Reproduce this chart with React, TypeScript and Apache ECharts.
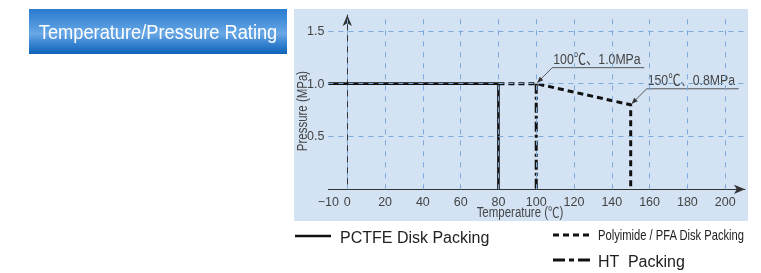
import React, { useEffect, useRef } from "react";
import * as echarts from "echarts";

const pctfeTemp = [-10, 80, 80];
const pctfePress = [1.0, 1.0, 0];
const pfaTemp = [80, 100, 150, 150];
const pfaPress = [1.0, 1.0, 0.8, 0];
const htTemp = [100, 100];
const htPress = [1.0, 0];
const gridTemps = [0, 20, 40, 60, 80, 100, 120, 140, 160, 180, 200];
const gridPress = [0.5, 1.0, 1.5];
const noteTemps = [100, 150];
const notePress = [1.0, 0.8];
const noteLabels = ["100℃、1.0MPa", "150℃、0.8MPa"];
const seriesNames = ["PCTFE Disk Packing", "Polyimide / PFA Disk Packing", "HT  Packing"];

const SANS = "'Liberation Sans', Arial, 'Noto Sans CJK JP', sans-serif";
const NX = 0.82; // horizontal squeeze imitating a condensed face

const pairs = (xs: number[], ys: number[]) => xs.map((x, i) => [x, ys[i]]);

export default function App() {
  const ref = useRef<HTMLDivElement>(null);
  useEffect(() => {
    const chart = echarts.init(ref.current!, null, { renderer: "svg" });
    const axisText = { color: "#444", fontFamily: SANS, fontSize: 12.5 };
    const gridLine = { color: "#7eaadb", type: [5, 5], width: 1 };
    chart.setOption({
      animation: false,
      grid: { left: 328.4, right: 16, top: 15, bottom: 83.7, containLabel: false },
      xAxis: {
        type: "value",
        min: -10,
        max: 210.5,
        interval: 10,
        axisLine: { lineStyle: { color: "#333", width: 1 }, symbol: ["none", "arrow"], symbolSize: [7, 11] },
        axisTick: { show: false },
        splitLine: { show: false },
        axisLabel: {
          ...axisText,
          margin: 6,
          showMaxLabel: false,
          formatter: (v: number) => (v === -10 ? "−10" : v % 20 === 0 && v <= 200 ? String(v) : ""),
        },
      },
      yAxis: {
        type: "value",
        min: 0,
        max: 1.65,
        interval: 0.5,
        axisLine: { show: true, lineStyle: { color: "#333", width: 1 }, symbol: ["none", "arrow"], symbolSize: [7, 11] },
        axisTick: { show: false },
        splitLine: { show: false },
        axisLabel: {
          ...axisText,
          margin: 4,
          showMaxLabel: false,
          formatter: (v: number) => (v === 0 ? "" : v.toFixed(1)),
        },
      },
      series: [
        {
          name: "grid",
          type: "line",
          data: [],
          z: 1,
          silent: true,
          markLine: {
            silent: true,
            symbol: "none",
            label: { show: false },
            lineStyle: gridLine,
            data: [
              ...gridTemps.map((t) => ({ xAxis: t, lineStyle: { ...gridLine, type: [5, 6] } })),
              ...gridPress.map((p) => ({ yAxis: p })),
            ],
          },
        },
        {
          name: seriesNames[0],
          type: "line",
          z: 3,
          symbol: "none",
          data: pairs(pctfeTemp, pctfePress),
          lineStyle: { color: "#111", width: 2.6, type: "solid" },
        },
        {
          name: seriesNames[1],
          type: "line",
          z: 3,
          symbol: "none",
          data: pairs(pfaTemp, pfaPress),
          lineStyle: { color: "#111", width: 3, type: [6, 4] },
        },
        {
          name: seriesNames[2],
          type: "line",
          z: 4,
          symbol: "none",
          data: pairs(htTemp, htPress),
          lineStyle: { color: "#111", width: 3, type: [10, 3, 3, 3] },
        },
      ],
    });

    const g: any[] = [
      { type: "rect", z: -10, shape: { x: 294, y: 9, width: 454, height: 212 }, style: { fill: "#d4e3f4" }, silent: true },
      {
        type: "rect",
        shape: { x: 29, y: 9, width: 258, height: 45 },
        style: {
          fill: new echarts.graphic.LinearGradient(0, 0, 0, 1, [
            { offset: 0, color: "#2a7ccf" },
            { offset: 0.35, color: "#4f96dd" },
            { offset: 0.55, color: "#6aa8e5" },
            { offset: 0.75, color: "#3a86d3" },
            { offset: 1, color: "#0f63b8" },
          ]),
        },
      },
      {
        type: "text",
        x: 158,
        y: 32,
        scaleX: 0.87,
        style: {
          text: "Temperature/Pressure Rating",
          fill: "#fff",
          fontFamily: SANS,
          fontSize: 21,
          align: "center",
          verticalAlign: "middle",
        },
      },
      {
        type: "text",
        x: 302,
        y: 111,
        rotation: Math.PI / 2,
        scaleX: NX,
        style: { text: "Pressure (MPa)", fill: "#444", fontFamily: SANS, fontSize: 14, align: "center", verticalAlign: "middle" },
      },
      {
        type: "text",
        x: 520,
        y: 212,
        scaleX: NX,
        style: { text: "Temperature (℃)", fill: "#444", fontFamily: SANS, fontSize: 14, align: "center", verticalAlign: "middle" },
      },
      // legend
      { type: "line", shape: { x1: 295, y1: 236, x2: 331, y2: 236 }, style: { stroke: "#111", lineWidth: 2.5 } },
      {
        type: "text",
        x: 340,
        y: 237,
        style: { text: seriesNames[0], fill: "#222", fontFamily: SANS, fontSize: 16, verticalAlign: "middle" },
      },
      { type: "line", shape: { x1: 553, y1: 235, x2: 593, y2: 235 }, style: { stroke: "#111", lineWidth: 3, lineDash: [6, 4] } },
      {
        type: "text",
        x: 598,
        y: 236,
        scaleX: 0.8,
        style: { text: seriesNames[1], fill: "#222", fontFamily: SANS, fontSize: 14, verticalAlign: "middle" },
      },
      { type: "line", shape: { x1: 553, y1: 260, x2: 593, y2: 260 }, style: { stroke: "#111", lineWidth: 3, lineDash: [12, 4, 5, 4] } },
      {
        type: "text",
        x: 598,
        y: 261,
        style: { text: seriesNames[2], fill: "#222", fontFamily: SANS, fontSize: 16, verticalAlign: "middle" },
      },
    ];

    noteTemps.forEach((t, i) => {
      const [px, py] = chart.convertToPixel({ gridIndex: 0 }, [t, notePress[i]]) as number[];
      const tx = px + 1;
      const ty = py - 1;
      const ex = tx + 15;
      const ey = ty - 15;
      const endX = ex + 92;
      g.push({
        type: "polyline",
        shape: { points: [[tx, ty], [ex, ey], [endX, ey]] },
        style: { stroke: "#555", lineWidth: 1, fill: null },
      });
      const d = Math.SQRT1_2;
      const bx = tx + d * 6;
      const by = ty - d * 6;
      g.push({
        type: "polygon",
        shape: { points: [[tx, ty], [bx + d * 2.5, by + d * 2.5], [bx - d * 2.5, by - d * 2.5]] },
        style: { fill: "#333" },
      });
      g.push({
        type: "text",
        x: ex + 1,
        y: ey - 1,
        scaleX: NX,
        style: { text: noteLabels[i], fill: "#444", fontFamily: SANS, fontSize: 15, verticalAlign: "bottom" },
      });
    });

    chart.setOption({ graphic: g });
    return () => chart.dispose();
  }, []);
  return <div ref={ref} style={{ position: "fixed", left: 0, top: 0, width: 761, height: 273 }} />;
}
